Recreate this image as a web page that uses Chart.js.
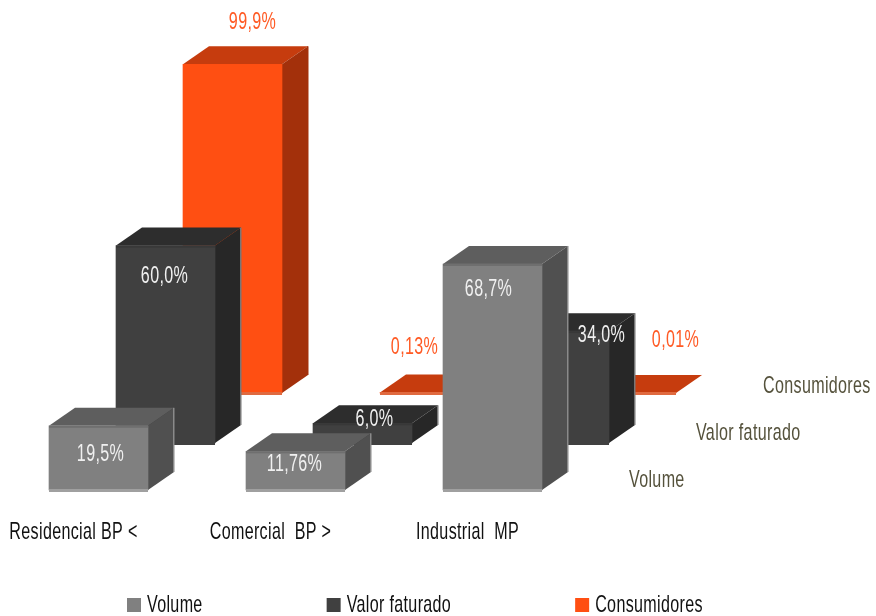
<!DOCTYPE html>
<html>
<head>
<meta charset="utf-8">
<title>Participação por classe</title>
<script src="https://cdn.jsdelivr.net/npm/chart.js@4"></script>
<style>
  html, body { margin: 0; padding: 0; background: #fff; }
  #wrap { width: 876px; height: 616px; }
</style>
</head>
<body>
<div id="wrap"><canvas id="chart" width="876" height="616"></canvas></div>
<script>
const categories = ['Residencial BP <', 'Comercial  BP >', 'Industrial  MP'];
const volume = [19.5, 11.76, 68.7];
const valorFaturado = [60.0, 6.0, 34.0];
const consumidores = [99.9, 0.13, 0.01];

const FONT = '"Liberation Sans", Arial, sans-serif';
const FONT_SIZE = 24;
const SQUEEZE = 0.67;
const BAR_W = 99;
const DEPTH_X = 26, DEPTH_Y = 18;

// each row sits further back in the fake 3D space
const rowShift = [[0, 0], [67, -47], [134, -97]];
const rowFaces = [
  { top: '#5e5e5e', side: '#505050', foot: '#a0a0a0', band: '#6f6f6f', edge: '#8a8a8a' },
  { top: '#2d2d2d', side: '#272727', foot: '#404040', band: '#383838', edge: '#777777' },
  { top: '#c63c0e', side: '#a3300b', foot: '#e06a40', band: '#ff4f12', edge: '#a3300b' }
];
// label position relative to the top centre of the front face
const labelNudge = [
  [[2, 29], [-1, 13], [-4, 25]],
  [[-1, 31], [12, -4], [42, 4]],
  [[20, -42], [-15, -45], [49, -53]]
];
const labelColors = ['#f0f0f0', '#f0f0f0', '#ff5a24'];
const nameRise = [0, 47, 94];

const pct = (v) => v.toLocaleString('pt-BR', { minimumFractionDigits: 1, maximumFractionDigits: 2 }) + '%';

const canvas = document.getElementById('chart');
const context = canvas.getContext('2d');

// no condensed face is installed, so all canvas text is squeezed sideways
let textShift = 0;
const rawFill = context.fillText.bind(context);
const rawMeasure = context.measureText.bind(context);
context.fillText = (text, x, y) => {
  context.save();
  context.letterSpacing = '0.5px';
  context.translate(x + textShift, y);
  context.scale(SQUEEZE, 1);
  rawFill(text, 0, 0);
  context.restore();
};
context.measureText = (text) => {
  context.letterSpacing = '0.5px';
  return { width: rawMeasure(text).width * SQUEEZE };
};

const fake3d = {
  id: 'fake3d',
  afterLayout(chart) {
    const legend = chart.legend;
    legend.left = 127 - legend.options.labels.padding;
    legend.top = 593 - legend.options.labels.padding;
    if (!legend.tightGap) {
      // pull legend text back towards its colour box
      const drawLegend = legend.draw;
      legend.draw = function () {
        textShift = -6;
        drawLegend.call(this);
        textShift = 0;
      };
      legend.tightGap = true;
    }
  },
  beforeDatasetDraw(chart, args) {
    const { ctx } = chart;
    const [dx, dy] = rowShift[args.index];
    const faces = rowFaces[args.index];
    ctx.save();
    ctx.translate(dx, dy);
    args.meta.data.forEach((bar) => {
      const l = bar.x - BAR_W / 2, r = bar.x + BAR_W / 2;
      ctx.fillStyle = faces.top;
      ctx.beginPath();
      ctx.moveTo(l, bar.y);
      ctx.lineTo(l + DEPTH_X, bar.y - DEPTH_Y);
      ctx.lineTo(r + DEPTH_X, bar.y - DEPTH_Y);
      ctx.lineTo(r, bar.y);
      ctx.closePath();
      ctx.fill();
      ctx.fillStyle = faces.side;
      ctx.beginPath();
      ctx.moveTo(r, bar.y);
      ctx.lineTo(r + DEPTH_X, bar.y - DEPTH_Y);
      ctx.lineTo(r + DEPTH_X, bar.base - DEPTH_Y);
      ctx.lineTo(r, bar.base);
      ctx.closePath();
      ctx.fill();
      // thin lit edge on the far corner
      ctx.fillStyle = faces.edge;
      ctx.fillRect(r + DEPTH_X - 1, bar.y - DEPTH_Y, 1.5, bar.base - bar.y);
    });
  },
  afterDatasetDraw(chart, args) {
    const { ctx } = chart;
    const faces = rowFaces[args.index];
    args.meta.data.forEach((bar) => {
      ctx.fillStyle = faces.band;
      ctx.fillRect(bar.x - BAR_W / 2, bar.y, BAR_W, Math.min(2, bar.base - bar.y));
      ctx.fillStyle = faces.foot;
      ctx.fillRect(bar.x - BAR_W / 2, bar.base - 1, BAR_W, 3);
    });
    ctx.restore();
  },
  afterDraw(chart) {
    const { ctx, chartArea } = chart;
    ctx.save();
    ctx.textAlign = 'center';
    ctx.textBaseline = 'middle';
    ctx.font = FONT_SIZE + 'px ' + FONT;
    chart.data.datasets.forEach((ds, i) => {
      const bars = chart.getDatasetMeta(i).data;
      ctx.fillStyle = labelColors[i];
      ds.data.forEach((v, j) => {
        const [nx, ny] = labelNudge[i][j];
        ctx.fillText(pct(v), bars[j].x + rowShift[i][0] + nx, bars[j].y + rowShift[i][1] + ny);
      });
    });
    // series names along the depth axis
    ctx.textAlign = 'left';
    ctx.fillStyle = '#55523c';
    chart.data.datasets.forEach((ds, i) => {
      ctx.fillText(ds.label, chartArea.right + 38 + rowShift[i][0], chartArea.bottom - 10 - nameRise[i]);
    });
    ctx.restore();
  }
};

new Chart(context, {
  type: 'bar',
  data: {
    labels: categories,
    datasets: [
      { label: 'Volume', data: volume, backgroundColor: '#808080' },
      { label: 'Valor faturado', data: valorFaturado, backgroundColor: '#404040' },
      { label: 'Consumidores', data: consumidores, backgroundColor: '#ff4f12' }
    ]
  },
  options: {
    responsive: false,
    animation: false,
    grouped: false,
    barThickness: BAR_W,
    clip: false,
    layout: { padding: { top: 161, right: 0, left: 0, bottom: 0 } },
    scales: {
      x: {
        border: { display: false },
        grid: { display: false },
        afterFit: (scale) => {
          scale.height = 96;
          scale.paddingLeft = 0;
          scale.paddingRight = 0;
        },
        ticks: {
          color: '#111',
          font: { family: FONT, size: FONT_SIZE },
          labelOffset: -25,
          padding: 20,
          maxRotation: 0
        }
      },
      // hidden axis on the right keeps room for the depth names
      y: {
        position: 'right',
        min: 0,
        max: 100,
        border: { display: false },
        grid: { display: false },
        ticks: { display: false },
        afterFit: (scale) => { scale.width = 285; }
      }
    },
    plugins: {
      tooltip: { enabled: false },
      legend: {
        position: 'bottom',
        align: 'start',
        maxHeight: 30,
        labels: {
          color: '#111',
          font: { family: FONT, size: FONT_SIZE },
          boxWidth: 14,
          boxHeight: 14,
          padding: 118
        }
      }
    }
  },
  plugins: [fake3d]
});
</script>
</body>
</html>
